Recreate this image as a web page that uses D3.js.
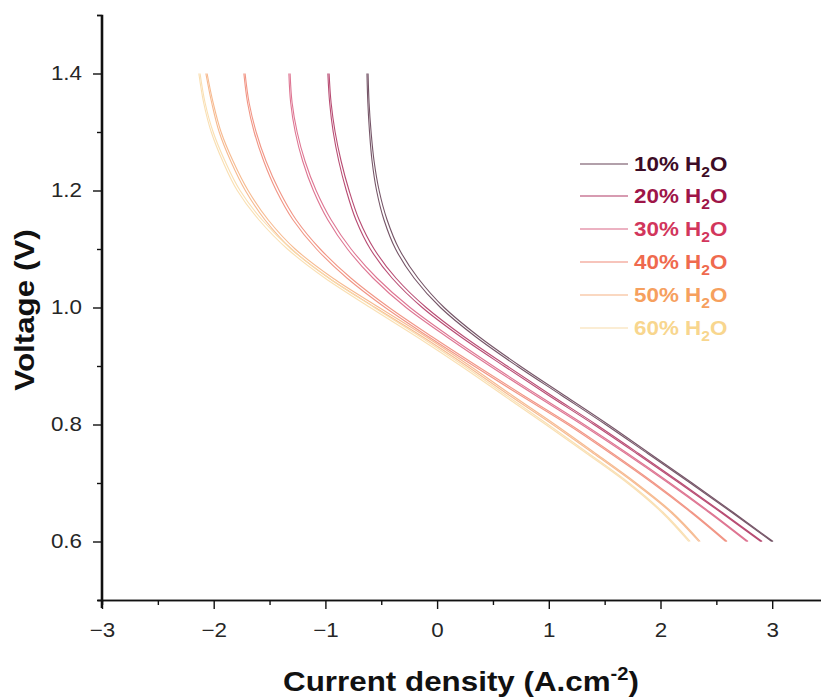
<!DOCTYPE html>
<html>
<head>
<meta charset="utf-8">
<script src="https://cdn.jsdelivr.net/npm/d3@7"></script>
<style>
  html, body { margin: 0; padding: 0; background: #fff; }
  svg { display: block; font-family: "Liberation Sans", Arial, sans-serif; }
</style>
</head>
<body>
<svg id="chart" width="821" height="698"></svg>
<script>
// Voltage levels (V) at which currents were read
const voltage = [1.40, 1.35, 1.30, 1.25, 1.20, 1.15, 1.10, 1.05, 1.00, 0.95, 0.90, 0.85, 0.80, 0.75, 0.70, 0.65, 0.60];

// Current density (A.cm-2), two scans per steam content
const h2o10a = [-0.618, -0.609, -0.591, -0.564, -0.519, -0.448, -0.340, -0.170, 0.063, 0.376, 0.743, 1.137, 1.531, 1.907, 2.283, 2.650, 3.008];
const h2o10b = [-0.628, -0.620, -0.605, -0.582, -0.542, -0.476, -0.372, -0.205, 0.030, 0.345, 0.715, 1.112, 1.508, 1.888, 2.266, 2.636, 2.996];
const h2o20a = [-0.967, -0.949, -0.913, -0.859, -0.788, -0.698, -0.564, -0.367, -0.098, 0.242, 0.627, 1.021, 1.424, 1.808, 2.184, 2.551, 2.910];
const h2o20b = [-0.978, -0.962, -0.930, -0.880, -0.813, -0.727, -0.598, -0.402, -0.133, 0.211, 0.598, 0.996, 1.402, 1.789, 2.168, 2.538, 2.898];
const h2o30a = [-1.316, -1.298, -1.253, -1.182, -1.083, -0.949, -0.770, -0.537, -0.242, 0.116, 0.501, 0.904, 1.316, 1.710, 2.086, 2.444, 2.784];
const h2o30b = [-1.327, -1.311, -1.270, -1.203, -1.108, -0.979, -0.803, -0.572, -0.278, 0.085, 0.473, 0.879, 1.294, 1.691, 2.070, 2.431, 2.772];
const h2o40a = [-1.719, -1.683, -1.620, -1.531, -1.414, -1.262, -1.047, -0.770, -0.430, -0.045, 0.358, 0.770, 1.191, 1.576, 1.943, 2.283, 2.596];
const h2o40b = [-1.730, -1.697, -1.638, -1.552, -1.440, -1.291, -1.080, -0.805, -0.465, -0.076, 0.330, 0.745, 1.169, 1.557, 1.927, 2.270, 2.584];
const h2o50a = [-2.059, -2.005, -1.934, -1.826, -1.692, -1.513, -1.271, -0.931, -0.519, -0.099, 0.295, 0.671, 1.056, 1.423, 1.782, 2.104, 2.355];
const h2o50b = [-2.070, -2.018, -1.951, -1.847, -1.717, -1.542, -1.304, -0.966, -0.554, -0.130, 0.267, 0.646, 1.034, 1.404, 1.766, 2.091, 2.343];
const h2o60a = [-2.122, -2.077, -2.005, -1.898, -1.764, -1.567, -1.307, -0.967, -0.564, -0.152, 0.242, 0.618, 0.994, 1.361, 1.719, 2.023, 2.265];
const h2o60b = [-2.133, -2.090, -2.022, -1.919, -1.789, -1.596, -1.340, -1.002, -0.599, -0.183, 0.214, 0.593, 0.972, 1.342, 1.703, 2.010, 2.253];

const seriesNames = ["10%", "20%", "30%", "40%", "50%", "60%"];
const seriesScans = [[h2o10a, h2o10b], [h2o20a, h2o20b], [h2o30a, h2o30b], [h2o40a, h2o40b], [h2o50a, h2o50b], [h2o60a, h2o60b]];
const textColors = ["#3d0c26", "#9e1548", "#d2365c", "#ef6a4e", "#f6a05e", "#f8d68e"];
const lineColors = ["#664356", "#b03864", "#da6686", "#ef8a78", "#f5b284", "#f8dcaa"];

const xTicks = [-3, -2, -1, 0, 1, 2, 3];
const xMinorTicks = [-2.5, -1.5, -0.5, 0.5, 1.5, 2.5, 3.5];
const yTicks = [0.6, 0.8, 1.0, 1.2, 1.4];
const yMinorTicks = [0.5, 0.7, 0.9, 1.1, 1.3, 1.5];

const STRETCH = 1.12; // reference glyphs are horizontally wider than Liberation Sans

const svg = d3.select("#chart");
const x = d3.scaleLinear().domain([-3, 3.5]).range([102, 828.05]);
const y = d3.scaleLinear().domain([0.5, 1.5]).range([600, 15]);

// curves
const line = d3.line().x(d => x(d[0])).y(d => y(d[1])).curve(d3.curveMonotoneY);
seriesScans.forEach((scans, i) => {
  scans.forEach(vals => {
    const pts = vals.map((j, k) => [j, voltage[k]]);
    svg.append("path")
      .datum(pts)
      .attr("d", line)
      .attr("fill", "none")
      .attr("stroke", lineColors[i])
      .attr("stroke-width", 1.1)
      .attr("stroke-opacity", 0.9);
  });
});

// axes
function styleAxis(g) {
  g.selectAll("path.domain").attr("stroke", "#111").attr("stroke-width", 1.6);
  g.selectAll(".tick line").attr("stroke", "#111").attr("stroke-width", 1.4);
  g.selectAll(".tick text").attr("fill", "#262626").style("font-size", "20px")
    .style("font-family", "'Liberation Sans', Arial, sans-serif");
}

const xAxisMinor = svg.append("g").attr("transform", "translate(0,600)")
  .call(d3.axisBottom(x).tickValues(xMinorTicks).tickSize(5).tickFormat(""));
styleAxis(xAxisMinor);
const xAxis = svg.append("g").attr("transform", "translate(0,600)")
  .call(d3.axisBottom(x).tickValues(xTicks).tickSize(9).tickFormat(d3.format("d")));
styleAxis(xAxis);
xAxis.selectAll(".tick text")
  .attr("y", null).attr("dy", null)
  .attr("transform", `translate(0,37) scale(${STRETCH},1)`);
xAxis.select("path.domain").attr("d", `M98,0.5H${x(3.5)}`);

const yAxisMinor = svg.append("g").attr("transform", "translate(102,0)")
  .call(d3.axisLeft(y).tickValues(yMinorTicks).tickSize(5).tickFormat(""));
styleAxis(yAxisMinor);
const yAxis = svg.append("g").attr("transform", "translate(102,0)")
  .call(d3.axisLeft(y).tickValues(yTicks).tickSize(9).tickFormat(d3.format(".1f")));
styleAxis(yAxis);
yAxis.selectAll(".tick text")
  .attr("x", null)
  .attr("transform", `translate(-20,0) scale(${STRETCH},1)`);
yAxis.select("path.domain").attr("d", `M-0.5,${y(1.5)}V${y(0.5) + 8}`);

// axis titles
const xt = svg.append("text")
  .attr("transform", `translate(461,691) scale(${STRETCH},1)`)
  .attr("text-anchor", "middle")
  .style("font-size", "28px").style("font-weight", "bold").attr("fill", "#111");
xt.append("tspan").text("Current density (A.cm");
xt.append("tspan").text("-2").style("font-size", "18px").attr("dy", -11);
xt.append("tspan").text(")").attr("dy", 11);

svg.append("text")
  .attr("transform", `translate(34,310) rotate(-90) scale(${STRETCH},1)`)
  .attr("text-anchor", "middle")
  .style("font-size", "28px").style("font-weight", "bold").attr("fill", "#111")
  .text("Voltage (V)");

// legend
const legendY = [164, 196, 229, 262, 295, 328];
seriesNames.forEach((name, i) => {
  const g = svg.append("g").attr("transform", `translate(580,${legendY[i]})`);
  g.append("line").attr("x1", 0).attr("x2", 48).attr("y1", 0).attr("y2", 0)
    .attr("stroke", lineColors[i]).attr("stroke-width", 1.2);
  const t = g.append("text").attr("transform", `translate(54,7) scale(${STRETCH},1)`)
    .style("font-size", "20px").style("font-weight", "bold").attr("fill", textColors[i]);
  t.append("tspan").text(name + " H");
  t.append("tspan").text("2").style("font-size", "14px").attr("dy", 6);
  t.append("tspan").text("O").attr("dy", -6);
});
</script>
</body>
</html>
